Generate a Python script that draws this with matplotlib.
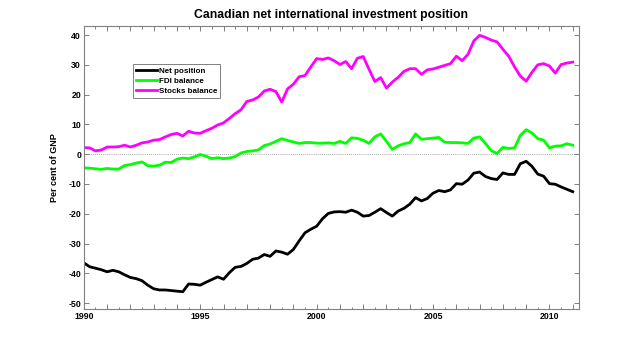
import numpy as np
import matplotlib
matplotlib.use("Agg")
import matplotlib.pyplot as plt
from matplotlib.ticker import MultipleLocator, FuncFormatter

# Quarterly observations, 1990Q1 to 2011Q1 (per cent of GNP)
start_year = 1990
quarters_per_year = 4

net_position = [
    -36.5, -37.8, -38.3, -38.8, -39.5, -39.0, -39.5, -40.5,
    -41.4, -41.8, -42.5, -44.0, -45.2, -45.6, -45.6, -45.8,
    -46.0, -46.2, -43.6, -43.7, -44.0, -43.0, -42.1, -41.2,
    -42.0, -39.8, -38.0, -37.7, -36.7, -35.3, -34.9, -33.7,
    -34.3, -32.5, -32.9, -33.6, -32.0, -29.1, -26.4, -25.2,
    -24.2, -21.7, -19.9, -19.4, -19.3, -19.5, -18.8, -19.5,
    -20.8, -20.6, -19.5, -18.3, -19.6, -20.8, -19.1, -18.2,
    -16.8, -14.6, -15.7, -14.9, -13.1, -12.2, -12.6, -12.0,
    -9.9, -10.1, -8.7, -6.4, -6.0, -7.5, -8.2, -8.5,
    -6.3, -6.8, -6.8, -3.2, -2.4, -4.1, -6.7, -7.4,
    -9.9, -10.1, -11.0, -11.8, -12.6,
]

fdi_balance = [
    -4.6, -4.7, -4.9, -5.1, -4.8, -5.0, -5.0, -3.8,
    -3.5, -3.0, -2.6, -3.9, -4.0, -3.7, -2.7, -2.8,
    -1.7, -1.3, -1.5, -0.9, -0.1, -0.7, -1.5, -1.2,
    -1.5, -1.3, -0.8, 0.4, 0.9, 1.1, 1.4, 2.9,
    3.4, 4.3, 5.2, 4.6, 4.1, 3.6, 3.9, 3.9,
    3.7, 3.7, 3.8, 3.6, 4.3, 3.6, 5.5, 5.3,
    4.7, 3.6, 5.8, 6.8, 4.3, 1.6, 2.8, 3.5,
    3.9, 6.8, 5.0, 5.2, 5.4, 5.6, 4.0, 3.9,
    3.9, 3.8, 3.6, 5.4, 5.8, 3.6, 1.2, 0.2,
    2.3, 1.9, 2.1, 6.3, 8.2, 7.1, 5.2, 4.7,
    2.1, 2.7, 2.8, 3.5, 3.0,
]

stocks_balance = [
    2.2, 2.1, 1.1, 1.4, 2.4, 2.4, 2.5, 3.0,
    2.4, 3.0, 3.8, 4.1, 4.7, 4.9, 5.8, 6.6,
    7.0, 6.1, 7.7, 7.1, 7.0, 7.9, 8.7, 9.8,
    10.5, 12.0, 13.6, 14.9, 17.7, 18.2, 19.2, 21.2,
    21.8, 21.0, 17.5, 21.9, 23.5, 26.0, 26.4, 29.3,
    32.1, 31.8, 32.3, 31.4, 30.1, 31.1, 28.7, 32.2,
    32.8, 28.5, 24.4, 25.7, 22.2, 24.2, 25.8, 27.8,
    28.7, 28.7, 26.8, 28.3, 28.6, 29.2, 29.8, 30.4,
    32.9, 31.4, 33.5, 38.0, 39.9, 39.2, 38.3, 37.7,
    35.2, 32.9, 29.3, 26.2, 24.5, 27.5, 30.0, 30.4,
    29.6, 27.2, 30.1, 30.6, 30.9,
]

series_labels = ["Net position", "FDI balance", "Stocks balance"]
series_colors = ["#000000", "#00ff00", "#ff00ff"]

title_text = "Canadian net international investment position"
ylabel_text = "Per cent of GNP"
label_years = [1990, 1995, 2000, 2005, 2010]

years = start_year + np.arange(len(net_position)) / quarters_per_year

plt.rcParams["font.family"] = ["Liberation Sans", "DejaVu Sans"]
plt.rcParams["axes.unicode_minus"] = False

fig = plt.figure(figsize=(6.4, 3.48), dpi=100)
ax = fig.add_axes([0.131, 0.112, 0.773, 0.813])

ax.axhline(0, color="#888888", linestyle=(0, (1, 1.5)), linewidth=0.6, zorder=1)

for values, label, color in zip([net_position, fdi_balance, stocks_balance],
                                series_labels, series_colors):
    ax.plot(years, values, color=color, linewidth=2.0, label=label,
            solid_joinstyle="round", zorder=2)

ax.set_xlim(1990, 2011.25)
ax.set_ylim(-52, 43)

ax.xaxis.set_major_locator(MultipleLocator(1))
ax.xaxis.set_minor_locator(MultipleLocator(0.5))
ax.xaxis.set_major_formatter(FuncFormatter(
    lambda v, pos: f"{int(round(v))}" if int(round(v)) in label_years else ""))
ax.yaxis.set_major_locator(MultipleLocator(10))

ax.tick_params(which="both", direction="in", top=True, right=True,
               color="#808080", labelsize=6.3, pad=2)
ax.tick_params(which="major", length=3.5, width=0.7)
ax.tick_params(which="minor", length=1.8, width=0.7)
for lab in ax.get_xticklabels() + ax.get_yticklabels():
    lab.set_fontweight("bold")

for spine in ax.spines.values():
    spine.set_color("#808080")
    spine.set_linewidth(0.8)

ax.set_title(title_text, fontsize=8.8, fontweight="bold", pad=5.5)
ax.set_ylabel(ylabel_text, fontsize=6.5, fontweight="bold", labelpad=7)

leg = ax.legend(loc="upper left", bbox_to_anchor=(0.1, 0.865), fontsize=5.8,
                frameon=True, fancybox=False, edgecolor="#606060",
                handlelength=2.6, handletextpad=0.25, borderpad=0.35,
                labelspacing=0.3, borderaxespad=0)
leg.get_frame().set_linewidth(0.7)
for t in leg.get_texts():
    t.set_fontweight("bold")

fig.savefig("out.png", dpi=100)
